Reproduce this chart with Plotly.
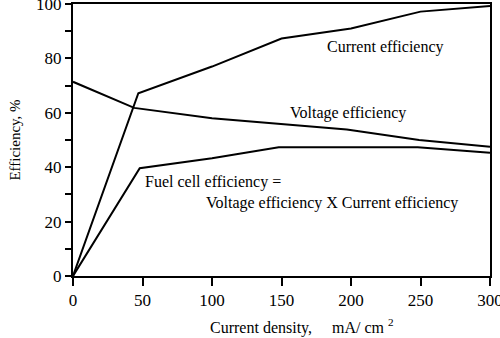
import plotly.graph_objects as go

# Data
cur_x = [0, 47, 100, 150, 200, 250, 300]
cur_y = [0, 67.2, 77, 87.3, 91, 97.2, 99.3]

volt_x = [0, 44, 100, 148, 197, 249, 300]
volt_y = [71.4, 61.8, 58, 55.9, 53.9, 50, 47.5]

fuel_x = [0, 48, 100, 148, 248, 300]
fuel_y = [0, 39.6, 43.3, 47.3, 47.3, 45.3]

x_ticks = [0, 50, 100, 150, 200, 250, 300]
y_ticks = [0, 20, 40, 60, 80, 100]

FONT = "Times New Roman"
line = dict(color="black", width=2)

fig = go.Figure()
for xs, ys in [(cur_x, cur_y), (volt_x, volt_y), (fuel_x, fuel_y)]:
    fig.add_trace(go.Scatter(x=xs, y=ys, mode="lines", line=line,
                             showlegend=False, hoverinfo="skip", cliponaxis=False))

fig.update_layout(
    width=500, height=338,
    margin=dict(l=73, r=10, t=4, b=62),
    paper_bgcolor="white", plot_bgcolor="white",
    font=dict(family=FONT, size=17, color="black"),
    xaxis=dict(range=[0, 300], tickvals=x_ticks, ticks="outside", ticklen=8,
               tickwidth=2, tickcolor="black", showline=True, linecolor="black",
               linewidth=2, mirror=True, showgrid=False, zeroline=False,
               ticklabeloverflow="allow", automargin=False,
               tickfont=dict(family=FONT, size=17)),
    yaxis=dict(range=[0, 100], tickvals=y_ticks, ticks="outside", ticklen=6,
               tickwidth=2, tickcolor="black", showline=True, linecolor="black",
               linewidth=2, mirror=True, showgrid=False, zeroline=False,
               ticklabeloverflow="allow", automargin=False,
               tickfont=dict(family=FONT, size=17),
               minor=dict(dtick=10, ticks="outside", ticklen=6, tickwidth=2,
                          tickcolor="black", showgrid=False),
               title=dict(text="Efficiency, %", font=dict(size=15, family=FONT), standoff=12)),
)

# x-axis title (placed off-centre, as in the reference)
fig.add_annotation(text="Current density,\u00a0\u00a0\u00a0\u00a0\u00a0mA/ cm <sup>2</sup>",
                   xref="paper", yref="paper", x=0.324, y=-0.186,
                   xanchor="left", yanchor="middle", showarrow=False,
                   font=dict(size=16, family=FONT))

ann = [
    ("Current efficiency", 224.5, 84.3, "center"),
    ("Voltage efficiency", 197.8, 59.9, "center"),
    ("Fuel cell efficiency =", 50.6, 34.6, "left"),
    ("Voltage efficiency X Current efficiency", 93.9, 26.8, "left"),
]
for t, x, y, a in ann:
    fig.add_annotation(text=t, x=x, y=y, xref="x", yref="y", showarrow=False,
                       xanchor=a, yanchor="middle", font=dict(size=16, family=FONT))

fig.write_html("out.html")
